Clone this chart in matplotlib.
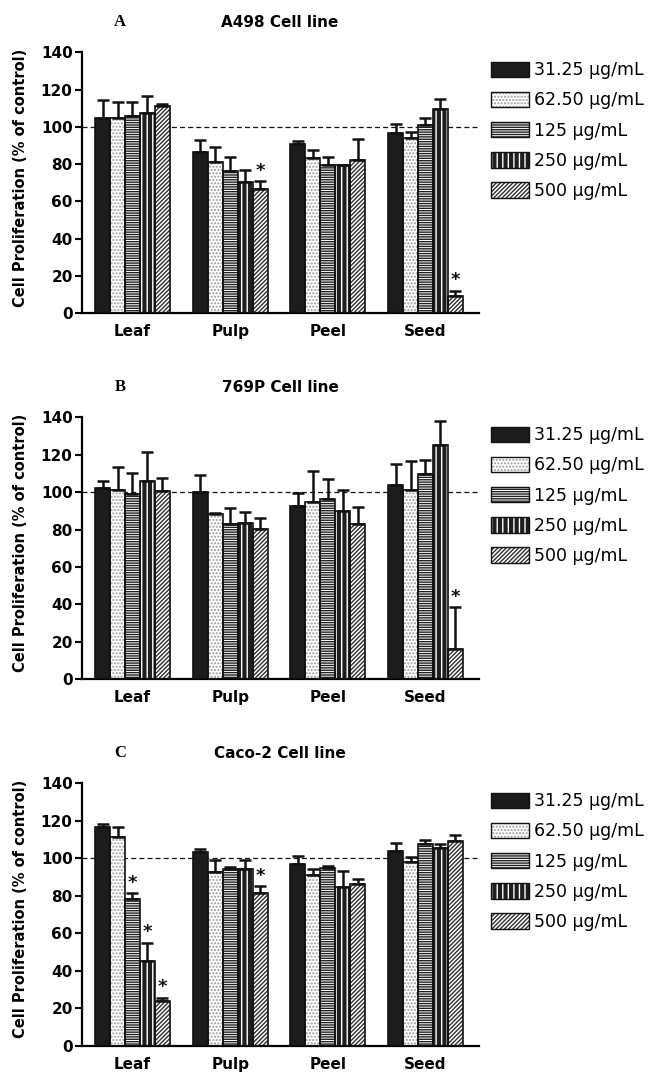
import numpy as np
import matplotlib.pyplot as plt
from matplotlib.patches import Patch

# data
parts = ['Leaf', 'Pulp', 'Peel', 'Seed']
doses = ['31.25 μg/mL', '62.50 μg/mL', '125 μg/mL', '250 μg/mL', '500 μg/mL']

# panel A - A498
a_mean = [[104.7, 105.0, 105.7, 107.5, 111.0],
          [86.3, 81.2, 76.2, 70.4, 66.6],
          [91.0, 83.3, 79.8, 79.3, 82.4],
          [96.7, 93.9, 101.0, 109.7, 9.3]]
a_err = [[9.6, 8.4, 7.9, 9.0, 1.2],
         [6.7, 8.0, 7.8, 6.3, 4.2],
         [1.5, 4.5, 4.2, 0.0, 11.2],
         [5.0, 3.3, 3.7, 5.4, 2.8]]
a_star = [[], [4], [], [4]]

# panel B - 769P
b_mean = [[102.4, 101.2, 98.8, 105.8, 100.5],
          [100.0, 88.3, 83.0, 83.3, 80.1],
          [92.5, 94.6, 96.4, 89.8, 83.0],
          [103.6, 101.0, 109.9, 125.0, 16.2]]
b_err = [[3.4, 12.4, 11.6, 15.8, 7.3],
         [9.4, 0.7, 8.8, 6.3, 5.9],
         [6.8, 16.8, 10.7, 11.1, 9.2],
         [11.7, 15.5, 7.1, 13.1, 22.4]]
b_star = [[], [], [], [4]]

# panel C - Caco-2
c_mean = [[116.9, 111.2, 78.3, 45.2, 24.0],
          [103.2, 92.9, 94.5, 94.1, 81.5],
          [97.0, 90.9, 94.8, 84.9, 86.3],
          [104.1, 98.0, 107.7, 105.3, 109.4]]
c_err = [[1.6, 5.7, 3.0, 9.8, 1.6],
         [2.0, 6.0, 0.7, 5.0, 3.7],
         [4.1, 3.6, 1.1, 8.3, 2.8],
         [4.3, 2.5, 2.1, 2.5, 2.9]]
c_star = [[2, 3, 4], [4], [], []]

panels = [('A', 'A498 Cell line', a_mean, a_err, a_star),
          ('B', '769P Cell line', b_mean, b_err, b_star),
          ('C', 'Caco-2 Cell line', c_mean, c_err, c_star)]

# fill styles: facecolor, hatch, hatch colour
styles = [('#1c1c1c', None, None),
          ('white', '.....', '#9a9a9a'),
          ('white', '-------', '#202020'),
          ('#1e1e1e', '|||', 'white'),
          ('white', '////////', '#303030')]

plt.rcParams['font.family'] = ['DejaVu Sans']
plt.rcParams['hatch.linewidth'] = 1.0

fig = plt.figure(figsize=(6.57, 10.73), dpi=100)
W, H = 657, 1073
boxes = [(52.3, 313.3), (417.3, 679.3), (783.3, 1045.7)]
x_left, x_right = 81.7, 479

w = 0.153
x = np.arange(len(parts))

for (letter, title, mean, err, star), (top, bot) in zip(panels, boxes):
    ax = fig.add_axes([x_left / W, 1 - bot / H, (x_right - x_left) / W, (bot - top) / H])
    mean = np.array(mean)
    err = np.array(err)
    handles = []
    for j in range(len(doses)):
        fc, hatch, hc = styles[j]
        xs = x + (j - 2) * w
        if hatch:
            ax.bar(xs, mean[:, j], w, color=fc, hatch=hatch, edgecolor=hc, linewidth=0, zorder=2)
            fill = Patch(facecolor=fc, hatch=hatch, edgecolor=hc, linewidth=0)
        else:
            ax.bar(xs, mean[:, j], w, color=fc, linewidth=0, zorder=2)
            fill = Patch(facecolor=fc, linewidth=0)
        ax.bar(xs, mean[:, j], w, fill=False, edgecolor='#111111', linewidth=1.2, zorder=3)
        ax.errorbar(xs, mean[:, j], yerr=[np.zeros(4), err[:, j]], fmt='none',
                    ecolor='#111111', elinewidth=1.8, capsize=4.5, capthick=1.8, zorder=4)
        handles.append((fill, Patch(fill=False, edgecolor='#111111', linewidth=1.0)))
    for i, js in enumerate(star):
        for j in js:
            ax.text(x[i] + (j - 2) * w, mean[i, j] + err[i, j] + 0.8, '*', ha='center', va='bottom',
                    fontsize=13, fontweight='bold', color='#111111', zorder=5)
    ax.axhline(100, color='#111111', lw=0.9, ls=(0, (4, 2.5)), zorder=1)
    ax.set_ylim(0, 140)
    ax.set_xlim(-0.52, 3.548)
    ax.set_yticks(np.arange(0, 141, 20))
    ax.set_xticks(x)
    ax.set_xticklabels(parts, fontsize=11, fontweight='bold')
    for lab in ax.get_yticklabels():
        lab.set_fontsize(11)
        lab.set_fontweight('bold')
    ax.tick_params(axis='x', length=0, pad=8)
    ax.tick_params(axis='y', length=5, width=1.5, pad=1.5)
    for s in ['top', 'right']:
        ax.spines[s].set_visible(False)
    for s in ['left', 'bottom']:
        ax.spines[s].set_linewidth(1.6)
    ax.set_ylabel('Cell Proliferation (% of control)', fontsize=10.5, fontweight='bold')
    ax.yaxis.set_label_coords((28 - x_left) / (x_right - x_left), 0.52)

    ty = top - 30
    fig.text(120 / W, 1 - ty / H, letter, ha='center', va='center', fontsize=12,
             fontweight='bold', family='Liberation Serif')
    fig.text(280 / W, 1 - ty / H, title, ha='center', va='center', fontsize=11, fontweight='bold')

    fig.legend(handles, doses, loc='upper left', bbox_to_anchor=(491 / W, 1 - (top + 9) / H),
               frameon=False, fontsize=12.5, handlelength=2.2, handleheight=1.0,
               labelspacing=0.7, handletextpad=0.3, borderpad=0, borderaxespad=0)

fig.savefig('out.png', dpi=100)
